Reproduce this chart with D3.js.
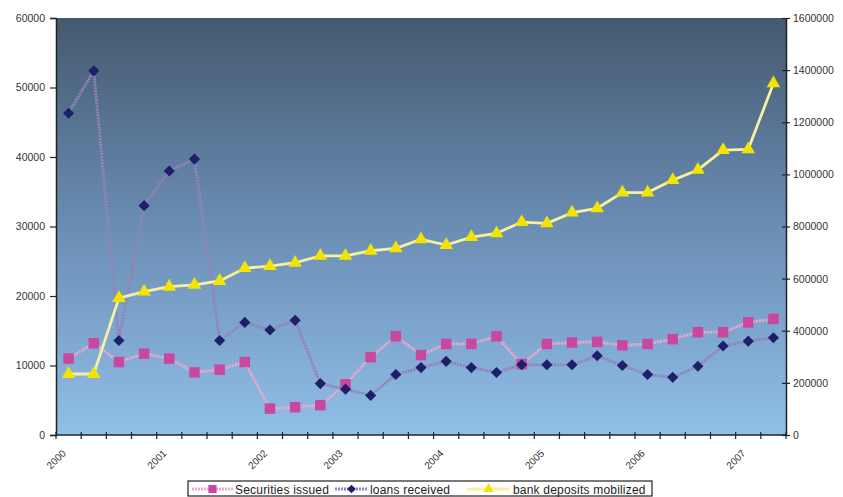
<!DOCTYPE html>
<html>
<head>
<meta charset="utf-8">
<script src="https://cdn.jsdelivr.net/npm/d3@7"></script>
<style>
  body { margin: 0; background: #fff; }
  svg { display: block; }
  text { font-family: "Liberation Sans", Arial, sans-serif; }
</style>
</head>
<body>
<svg id="chart" width="843" height="497"></svg>
<script>
// ---- data ----
const categories = ["2000","","","","2001","","","","2002","","","2003","","","","2004","","","","2005","","","","2006","","","","2007",""];
const securitiesIssued = [11000,13200,10500,11700,11000,9000,9400,10500,3800,4000,4300,7300,11200,14200,11500,13100,13100,14200,10200,13100,13300,13400,12900,13100,13800,14800,14800,16200,16700];
const loansReceived = [46300,52400,13600,33000,38000,39700,13600,16200,15100,16500,7400,6600,5700,8700,9700,10600,9700,9000,10100,10100,10100,11400,10000,8700,8300,9900,12800,13500,14000];
const bankDeposits = [234000,234000,525000,550000,569000,576000,591000,640000,648000,661000,687000,687000,707000,716000,751000,729000,759000,774000,817000,812000,853000,870000,930000,930000,978000,1017000,1093000,1096000,1349000];
const leftTicks = [0,10000,20000,30000,40000,50000,60000];
const rightTicks = [0,200000,400000,600000,800000,1000000,1200000,1400000,1600000];
const seriesNames = ["Securities issued","loans received","bank deposits mobilized"];

// ---- layout ----
const svg = d3.select("#chart");
const L = 56, R = 786, T = 18, B = 435;

const x = d3.scaleBand().domain(d3.range(categories.length)).range([L, R]).padding(0);
const yL = d3.scaleLinear().domain([0, 60000]).range([B, T]);
const yR = d3.scaleLinear().domain([0, 1600000]).range([B, T]);
const cx = i => x(i) + x.bandwidth() / 2;

// background gradient
const defs = svg.append("defs");
const grad = defs.append("linearGradient").attr("id", "bg").attr("x1", 0).attr("y1", 0).attr("x2", 0).attr("y2", 1);
grad.append("stop").attr("offset", "0%").attr("stop-color", "#44596f");
grad.append("stop").attr("offset", "50%").attr("stop-color", "#6b8db4");
grad.append("stop").attr("offset", "100%").attr("stop-color", "#90bfe8");
svg.append("rect").attr("x", L).attr("y", T).attr("width", R - L).attr("height", B - T).attr("fill", "url(#bg)");

// axes
const axisColor = "#222";
const gl = svg.append("g").attr("transform", `translate(${L},0)`)
  .call(d3.axisLeft(yL).tickValues(leftTicks).tickSize(6).tickPadding(5).tickFormat(d3.format("d")));
gl.select(".domain").attr("stroke", axisColor).attr("stroke-width", 1.5);
gl.selectAll(".tick line").attr("stroke", axisColor).attr("stroke-width", 1.2);
gl.selectAll(".tick text").attr("font-size", 10.5).attr("fill", "#333").attr("font-family", "Liberation Sans, Arial, sans-serif");

const gr = svg.append("g").attr("transform", `translate(${R},0)`)
  .call(d3.axisRight(yR).tickValues(rightTicks).tickSizeInner(4).tickSizeOuter(0).tickPadding(3).tickFormat(d3.format("d")));
gr.select(".domain").attr("stroke", axisColor).attr("stroke-width", 1.5);
gr.selectAll(".tick line").attr("stroke", axisColor).attr("stroke-width", 1.2).attr("x1", -4);
gr.selectAll(".tick text").attr("font-size", 10.5).attr("fill", "#333").attr("font-family", "Liberation Sans, Arial, sans-serif");

// x axis: boundary ticks
const gx = svg.append("g");
gx.append("line").attr("x1", L).attr("x2", R).attr("y1", B).attr("y2", B).attr("stroke", axisColor).attr("stroke-width", 1.5);
gx.selectAll("line.xt").data(d3.range(categories.length + 1)).enter().append("line")
  .attr("class", "xt")
  .attr("x1", i => i < categories.length ? x(i) : R).attr("x2", i => i < categories.length ? x(i) : R)
  .attr("y1", B - 3).attr("y2", B + 4).attr("stroke", axisColor).attr("stroke-width", 1.2);
gx.selectAll("text.xl").data(categories.map((c, i) => ({c, i})).filter(d => d.c !== "")).enter().append("text")
  .attr("class", "xl")
  .attr("transform", d => `translate(${cx(d.i) - 2},${B + 19}) rotate(-45)`)
  .attr("text-anchor", "end").attr("font-size", 10).attr("fill", "#333")
  .text(d => d.c);

// lines
const lineL = d3.line().x((d, i) => cx(i)).y(d => yL(d));
const lineR = d3.line().x((d, i) => cx(i)).y(d => yR(d));

function drawSeries(data, lineGen, yS, lineStyle, marker) {
  const g = svg.append("g");
  g.append("path").datum(data).attr("d", lineGen).attr("fill", "none")
    .attr("stroke", lineStyle.color).attr("stroke-width", lineStyle.width)
    .attr("stroke-dasharray", lineStyle.dash || null).attr("stroke-linejoin", "round");
  g.selectAll("path.m").data(data).enter().append("path").attr("class", "m")
    .attr("d", d3.symbol().type(marker.type).size(marker.size)())
    .attr("fill", marker.color)
    .attr("transform", (d, i) => `translate(${cx(i)},${yS(d)})` + (marker.rotate ? ` rotate(${marker.rotate})` : ""));
}

const styles = [
  {line: {color: "#f2a7d2", width: 2.8, dash: "2,1"}, marker: {type: d3.symbolSquare, size: 110, color: "#c9479c"}},
  {line: {color: "#9283b8", width: 3, dash: "2,1"}, marker: {type: d3.symbolSquare, size: 62, color: "#1d1f6b", rotate: 45}},
  {line: {color: "#f6f1a2", width: 2.8}, marker: {type: d3.symbolTriangle, size: 80, color: "#f3e400"}}
];

drawSeries(securitiesIssued, lineL, yL, styles[0].line, styles[0].marker);
drawSeries(loansReceived, lineL, yL, styles[1].line, styles[1].marker);
drawSeries(bankDeposits, lineR, yR, styles[2].line, styles[2].marker);

// legend
const lg = svg.append("g");
lg.append("rect").attr("x", 188).attr("y", 481).attr("width", 464).attr("height", 15)
  .attr("fill", "#fff").attr("stroke", "#222").attr("stroke-width", 1.2);
const legendItems = [
  {x0: 192, x1: 233, tx: 235},
  {x0: 335, x1: 368, tx: 370},
  {x0: 467, x1: 510, tx: 513}
];
legendItems.forEach((it, k) => {
  const s = styles[k];
  const ly = 489;
  lg.append("line").attr("x1", it.x0).attr("x2", it.x1).attr("y1", ly).attr("y2", ly)
    .attr("stroke", s.line.color).attr("stroke-width", s.line.width).attr("stroke-dasharray", s.line.dash || null);
  const mx = (it.x0 + it.x1) / 2;
  lg.append("path").attr("d", d3.symbol().type(s.marker.type).size(s.marker.size * 0.6)())
    .attr("transform", `translate(${mx},${ly})` + (s.marker.rotate ? ` rotate(${s.marker.rotate})` : ""))
    .attr("fill", s.marker.color);
  lg.append("text").attr("x", it.tx).attr("y", ly + 4.5).attr("font-size", 12)
    .attr("letter-spacing", 0.2).attr("fill", "#222").text(seriesNames[k]);
});
</script>
</body>
</html>
